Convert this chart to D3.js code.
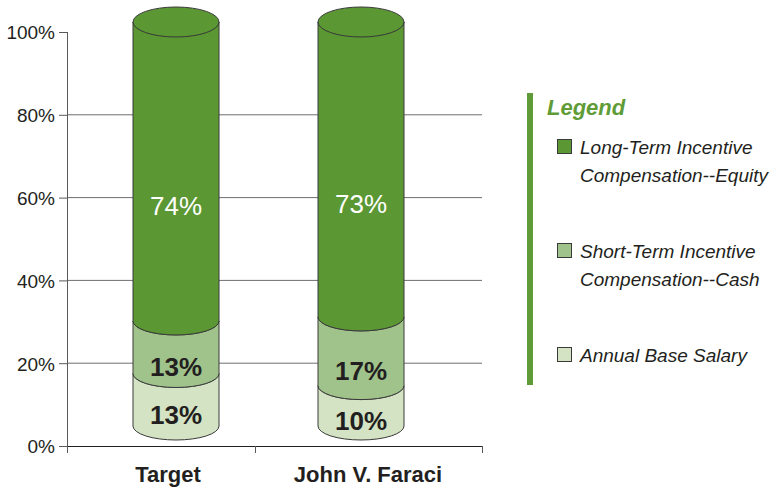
<!DOCTYPE html>
<html>
<head>
<meta charset="utf-8">
<script src="https://cdn.jsdelivr.net/npm/d3@7"></script>
<style>
  body { margin: 0; background: #fff; }
  text { font-family: "Liberation Sans", Arial, Helvetica, sans-serif; }
</style>
</head>
<body>
<svg id="chart" width="772" height="490"></svg>
<script>
// data
const categories = ["Target", "John V. Faraci"]
const baseSalary = [13, 10]
const shortTerm = [13, 17]
const longTerm = [74, 73]
const seriesNames = ["Annual Base Salary", "Short-Term Incentive Compensation--Cash", "Long-Term Incentive Compensation--Equity"]
const legendLines = [["Long-Term Incentive", "Compensation--Equity"], ["Short-Term Incentive", "Compensation--Cash"], ["Annual Base Salary"]]
const yTicks = [0, 20, 40, 60, 80, 100]

const colors = ["#d3e3c3", "#a0c38b", "#5b9733"]
const labelColors = ["#231f20", "#231f20", "#ffffff"]
const labelWeights = ["bold", "bold", "normal"]
const labelDy = [24, 29, 44]

const svg = d3.select("#chart")

const y = d3.scaleLinear().domain([0, 100]).range([446, 32])
// category dividers on the floor (not evenly spaced in the original)
const xDiv = d3.scaleLinear().domain([0, 1, 2]).range([67, 255, 482])
const xLabel = d3.scalePoint().domain(categories).range([168, 368])
// cylinder body positions (3d bars sit a bit above the floor)
const barX = d3.scalePoint().domain(categories).range([176, 361])
const cy = d3.scaleLinear().domain([0, 100]).range([426, 22])
const rx = 43, ry = 14

// gridlines
svg.append("g")
  .selectAll("line")
  .data(yTicks.filter(d => d > 0 && d < 100))
  .enter()
  .append("line")
  .attr("x1", 67).attr("x2", 482)
  .attr("y1", d => y(d)).attr("y2", d => y(d))
  .attr("stroke", "#6d6e71")
  .attr("stroke-width", 1)

// y axis
const yAxis = d3.axisLeft(y).tickValues(yTicks).tickFormat(d => d + "%").tickSize(8).tickSizeOuter(0)
const gy = svg.append("g").attr("transform", "translate(67,0)").call(yAxis)
gy.select(".domain").attr("stroke", "#58595b").attr("d", "M0.5," + y(100) + "V" + (y(0) + 7))
gy.selectAll(".tick line").attr("stroke", "#58595b")
gy.selectAll("text")
  .attr("x", -12)
  .attr("dy", "0.36em")
  .style("font-size", "19px")
  .attr("fill", "#231f20")

// x axis
const gx = svg.append("g").attr("transform", "translate(0," + y(0) + ")")
gx.append("line").attr("x1", xDiv(0)).attr("x2", xDiv(2)).attr("y1", 0.5).attr("y2", 0.5).attr("stroke", "#231f20")
gx.selectAll(".xt")
  .data([0, 1, 2])
  .enter()
  .append("line")
  .attr("class", "xt")
  .attr("x1", d => Math.round(xDiv(d)) + 0.5).attr("x2", d => Math.round(xDiv(d)) + 0.5)
  .attr("y1", 0).attr("y2", 7)
  .attr("stroke", "#58595b")
gx.selectAll(".xl")
  .data(categories)
  .enter()
  .append("text")
  .attr("class", "xl")
  .attr("x", d => xLabel(d))
  .attr("y", 36)
  .attr("text-anchor", "middle")
  .style("font-size", "22px")
  .style("font-weight", "bold")
  .attr("fill", "#231f20")
  .text(d => d)

// stacked cylinders
const layers = [baseSalary, shortTerm, longTerm]
categories.forEach(function(cat, i) {
  const cx = barX(cat)
  const left = cx - rx, right = cx + rx
  let acc = 0
  const g = svg.append("g")
  layers.forEach(function(vals, k) {
    const v = vals[i]
    const y0 = cy(acc), y1 = cy(acc + v)
    const path = "M" + left + "," + y1 + " L" + left + "," + y0 +
      " A" + rx + "," + ry + " 0 0 0 " + right + "," + y0 +
      " L" + right + "," + y1 +
      " A" + rx + "," + ry + " 0 0 1 " + left + "," + y1 + " Z"
    g.append("path")
      .attr("d", path)
      .attr("fill", colors[k])
      .attr("stroke", "#3a3a3a")
      .attr("stroke-width", 1)
    if (k === layers.length - 1) {
      g.append("ellipse")
        .attr("cx", cx).attr("cy", y1)
        .attr("rx", rx).attr("ry", ry + 1)
        .attr("fill", colors[k])
        .attr("stroke", "#3a3a3a")
        .attr("stroke-width", 1)
    }
    g.append("text")
      .attr("x", cx)
      .attr("y", cy(acc + v / 2) + labelDy[k])
      .attr("text-anchor", "middle")
      .style("font-size", "26px")
      .style("font-weight", labelWeights[k])
      .attr("fill", labelColors[k])
      .text(v + "%")
    acc += v
  })
})

// legend
const lg = svg.append("g")
lg.append("rect").attr("x", 527).attr("y", 93).attr("width", 6).attr("height", 292).attr("fill", "#5f9c38")
lg.append("text")
  .attr("x", 547).attr("y", 115)
  .style("font-size", "22px")
  .style("font-weight", "bold")
  .style("font-style", "italic")
  .attr("fill", "#5f9c38")
  .text("Legend")

const legendColors = [colors[2], colors[1], colors[0]]
const legendTop = [139, 243, 347]
legendLines.forEach(function(lines, k) {
  lg.append("rect")
    .attr("x", 557.5).attr("y", legendTop[k] + 0.5)
    .attr("width", 14).attr("height", 14)
    .attr("fill", legendColors[k])
    .attr("stroke", "#3a3a3a")
  const t = lg.append("text")
    .attr("x", 580).attr("y", legendTop[k] + 15)
    .style("font-size", "19px")
    .style("font-style", "italic")
    .attr("fill", "#231f20")
  lines.forEach(function(line, j) {
    t.append("tspan").attr("x", 580).attr("dy", j === 0 ? 0 : 28).text(line)
  })
})
</script>
</body>
</html>
